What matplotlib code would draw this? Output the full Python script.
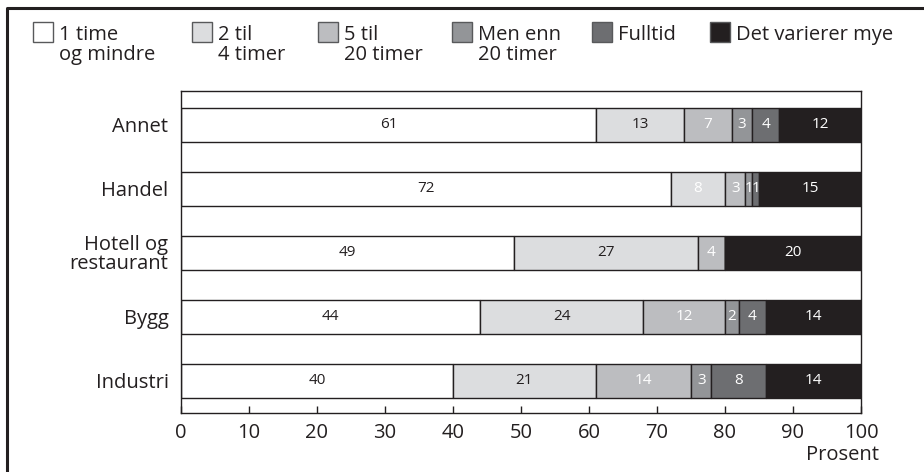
import matplotlib
matplotlib.use('agg')
from matplotlib import pyplot as plt
from matplotlib.patches import Rectangle
from matplotlib.lines import Line2D
import numpy as np

# data, top to bottom as drawn
categories = ['Annet', 'Handel', 'Hotell og\nrestaurant', 'Bygg', 'Industri']
one_hour = [61, 72, 49, 44, 40]
two_four = [13, 8, 27, 24, 21]
five_twenty = [7, 3, 4, 12, 14]
over_twenty = [3, 1, 0, 2, 3]
full_time = [4, 1, 0, 4, 8]
varies = [12, 15, 20, 14, 14]

legend_line1 = ['1 time', '2 til', '5 til', 'Men enn', 'Fulltid', 'Det varierer mye']
legend_line2 = ['og mindre', '4 timer', '20 timer', '20 timer', '', '']
xticks = [0, 10, 20, 30, 40, 50, 60, 70, 80, 90, 100]

colors = ['#ffffff', '#dcdddf', '#bcbdc0', '#939598', '#6d6e71', '#231f20']
text_colors = [['#231f20'] * 5,
               ['#231f20', 'white', '#231f20', '#231f20', '#231f20'],
               ['white'] * 5, ['white'] * 5, ['white'] * 5, ['white'] * 5]
edge = '#231f20'

plt.rcParams['font.family'] = ['Open Sans', 'DejaVu Sans']

W, H = 924, 472
fig = plt.figure(figsize=(W / 100, H / 100), dpi=100)
ax = fig.add_axes([181 / W, 1 - 413 / H, (861 - 181) / W, (413 - 91) / H])

series = [one_hour, two_four, five_twenty, over_twenty, full_time, varies]
ypos = np.arange(len(categories))[::-1]
left = np.zeros(len(categories))
for k, vals in enumerate(series):
    vals = np.array(vals, dtype=float)
    ax.barh(ypos, vals, left=left, height=0.53, color=colors[k],
            edgecolor=edge, linewidth=1.0)
    for i, v in enumerate(vals):
        if v > 0:
            ax.text(left[i] + v / 2, ypos[i], f'{int(v)}', ha='center', va='center',
                    fontsize=11, color=text_colors[k][i])
    left += vals

ax.set_xlim(0, 100)
ax.set_ylim(-0.5, 4.53)
ax.set_xticks(xticks)
ax.set_xticklabels([str(t) for t in xticks], fontsize=14.5, color=edge)
ax.tick_params(axis='x', direction='in', length=5, width=1, color=edge, pad=7)
ax.set_yticks(ypos)
ax.set_yticklabels(categories, fontsize=14.5, linespacing=0.9, color=edge)
ax.tick_params(axis='y', length=0, pad=9)
for s in ax.spines.values():
    s.set_color(edge)
    s.set_linewidth(1.0)

fig.text(879 / W, 1 - 460 / H, 'Prosent', ha='right', va='baseline',
         fontsize=14.5, color=edge)

# legend drawn by hand to keep the two-line layout
sq_x = [33, 192, 318, 452, 592, 710]
for k in range(6):
    fig.add_artist(Rectangle((sq_x[k] / W, 1 - 42 / H), 20 / W, 20 / H,
                             transform=fig.transFigure, facecolor=colors[k],
                             edgecolor='#58595b', linewidth=1.0))
    tx = (sq_x[k] + 26) / W
    fig.text(tx, 1 - 40 / H, legend_line1[k], ha='left', va='baseline',
             fontsize=14.5, color=edge)
    if legend_line2[k]:
        fig.text(tx, 1 - 60 / H, legend_line2[k], ha='left', va='baseline',
                 fontsize=14.5, color=edge)

# outer frame, cut by the image edges
fig.add_artist(Line2D([7 / W, 7 / W, 1.0], [0.0, 1 - 8 / H, 1 - 8 / H],
                      transform=fig.transFigure, color=edge, linewidth=2.2))

plt.savefig('out.png', dpi=100)
plt.close()
